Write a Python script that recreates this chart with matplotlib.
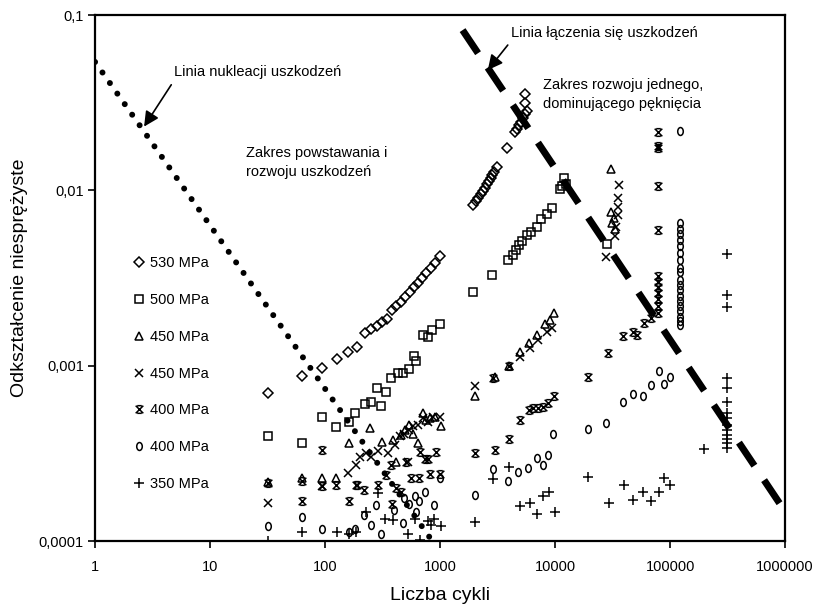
import matplotlib
matplotlib.use("Agg")
import matplotlib.pyplot as plt
from matplotlib.path import Path
from matplotlib.transforms import Affine2D
from matplotlib.ticker import FixedLocator, FixedFormatter, NullLocator

plt.rcParams['font.family'] = ['Liberation Sans', 'DejaVu Sans']

# =========================
# DATA (liczba cykli, odksztalcenie niesprezyste)
# =========================
n_530 = [32, 63, 95, 127, 159, 189, 222, 250, 284, 314, 347, 384, 416, 457, 499, 543, 589, 642, 695, 759, 828, 903, 993,
         1940, 2050, 2150, 2250, 2350, 2450, 2550, 2650, 2750, 2850, 2950, 3100, 3830,
         4470, 4650, 4850, 5050, 5250, 5450, 5650, 5460, 5460]
e_530 = [7.0e-4, 8.7e-4, 9.7e-4, 1.09e-3, 1.20e-3, 1.28e-3, 1.53e-3, 1.62e-3, 1.69e-3, 1.77e-3, 1.85e-3, 2.07e-3,
         2.19e-3, 2.31e-3, 2.47e-3, 2.64e-3, 2.80e-3, 2.95e-3, 3.15e-3, 3.36e-3, 3.59e-3, 3.83e-3, 4.22e-3,
         8.3e-3, 8.7e-3, 9.1e-3, 9.5e-3, 9.9e-3, 1.03e-2, 1.08e-2, 1.13e-2, 1.18e-2, 1.23e-2, 1.28e-2, 1.36e-2, 1.74e-2,
         2.15e-2, 2.25e-2, 2.35e-2, 2.45e-2, 2.6e-2, 2.72e-2, 2.85e-2, 3.15e-2, 3.54e-2]

n_500 = [32, 63, 95, 125, 160, 183, 222, 250, 281, 308, 340, 375, 430, 475, 540, 590, 620, 706, 785, 855, 1000,
         1940, 2850, 3910, 4330, 4600, 4900, 5200, 5650, 6220, 6920, 7600, 8450, 9360,
         11000, 11500, 12000, 12500, 28400]
e_500 = [3.96e-4, 3.63e-4, 5.07e-4, 4.48e-4, 4.78e-4, 5.38e-4, 6.04e-4, 6.22e-4, 7.48e-4, 5.88e-4, 7.1e-4, 8.46e-4,
         9.03e-4, 9.1e-4, 9.53e-4, 1.14e-3, 1.06e-3, 1.5e-3, 1.46e-3, 1.6e-3, 1.73e-3,
         2.64e-3, 3.29e-3, 4.0e-3, 4.28e-3, 4.55e-3, 4.85e-3, 5.15e-3, 5.56e-3, 5.8e-3, 6.2e-3, 6.85e-3, 7.3e-3, 7.9e-3,
         1.02e-2, 1.06e-2, 1.17e-2, 1.09e-2, 4.92e-3]

n_450a = [32, 63, 95, 125, 160, 246, 313, 390, 417, 460, 500, 540, 580, 640, 705, 760, 820, 900, 1010,
          2000, 3000, 4000, 4950, 5950, 6950, 8200, 8950, 9750,
          30800, 30800, 31500, 32500, 33500]
e_450a = [2.18e-4, 2.3e-4, 2.3e-4, 2.3e-4, 3.63e-4, 4.43e-4, 3.68e-4, 3.77e-4, 2.83e-4, 4.0e-4, 4.3e-4, 4.6e-4,
          4.1e-4, 3.6e-4, 5.4e-4, 4.9e-4, 5.0e-4, 5.1e-4, 4.54e-4,
          6.7e-4, 8.57e-4, 9.95e-4, 1.19e-3, 1.34e-3, 1.5e-3, 1.74e-3, 1.82e-3, 2.0e-3,
          1.32e-2, 7.55e-3, 6.5e-3, 7.0e-3, 6.0e-3]

n_450b = [32, 95, 158, 186, 200, 226, 250, 290, 352, 405, 445, 490, 525, 540, 580, 640, 706, 785, 865, 1000,
          2000, 4950, 6000, 7100, 8450, 9350,
          28000, 33000, 34000, 35000, 35000, 35500, 36000]
e_450b = [1.64e-4, 2.06e-4, 2.43e-4, 2.71e-4, 3.02e-4, 3.16e-4, 3.0e-4, 3.24e-4, 3.18e-4, 3.52e-4, 3.96e-4, 4.1e-4,
          2.83e-4, 4.3e-4, 4.5e-4, 4.6e-4, 5.0e-4, 4.8e-4, 5.1e-4, 5.1e-4,
          7.65e-4, 1.12e-3, 1.26e-3, 1.4e-3, 1.56e-3, 1.65e-3,
          4.18e-3, 5.5e-3, 6.2e-3, 7.2e-3, 8.0e-3, 9.0e-3, 1.07e-2]

n_400a = [32, 63, 63, 95, 95, 125, 160, 186, 188, 220, 290, 340, 375, 385, 415, 458, 505, 560, 660, 675, 735, 785,
          810, 930, 1000,
          2000, 2900, 3000, 4000, 4000, 4950, 5950, 6400, 7100, 7800, 8600, 9750,
          19300, 29000, 39000, 48000, 52000, 59000, 68000,
          79000, 79000, 79000, 79000, 79000, 79000, 79000, 79000, 79000, 79000, 79000, 79000]
e_400a = [2.15e-4, 2.2e-4, 1.7e-4, 3.3e-4, 2.05e-4, 2.1e-4, 1.7e-4, 2.1e-4, 2.08e-4, 1.95e-4, 2.1e-4, 2.38e-4,
          2.7e-4, 1.62e-4, 2.0e-4, 1.9e-4, 2.83e-4, 2.3e-4, 2.3e-4, 3.2e-4, 2.95e-4, 2.95e-4, 2.4e-4, 3.2e-4, 2.4e-4,
          3.16e-4, 8.5e-4, 3.3e-4, 1.0e-3, 3.8e-4, 4.93e-4, 5.6e-4, 5.7e-4, 5.75e-4, 5.8e-4, 6.1e-4, 6.7e-4,
          8.57e-4, 1.18e-3, 1.48e-3, 1.55e-3, 1.5e-3, 1.75e-3, 1.86e-3,
          2.16e-2, 1.8e-2, 1.75e-2, 1.06e-2, 5.94e-3, 3.24e-3, 3.0e-3, 2.8e-3, 2.6e-3, 2.4e-3, 2.2e-3, 2.0e-3]

n_400b = [32, 63, 95, 160, 183, 220, 250, 278, 308, 400, 475, 490, 540, 600, 620, 660, 735, 890, 1000,
          2000, 2900, 3900, 4800, 5800, 6900, 7800, 8700, 9600,
          19300, 28000, 39000, 48000, 58000, 68000, 80000, 89000, 99000,
          122000, 122000, 122000, 122000, 122000, 122000, 122000, 122000, 122000, 122000,
          122000, 122000, 122000, 122000, 122000, 122000, 122000, 122000, 122000, 122000]
e_400b = [1.22e-4, 1.37e-4, 1.17e-4, 1.13e-4, 1.17e-4, 1.4e-4, 1.23e-4, 1.6e-4, 1.1e-4, 1.5e-4, 1.26e-4, 1.75e-4,
          1.63e-4, 1.8e-4, 1.47e-4, 1.7e-4, 1.9e-4, 1.6e-4, 2.3e-4,
          1.83e-4, 2.56e-4, 2.2e-4, 2.48e-4, 2.6e-4, 2.96e-4, 2.7e-4, 3.1e-4, 4.07e-4,
          4.38e-4, 4.68e-4, 6.2e-4, 6.9e-4, 6.7e-4, 7.8e-4, 9.3e-4, 7.9e-4, 8.6e-4,
          2.19e-2, 6.5e-3, 6.0e-3, 5.6e-3, 5.2e-3, 4.8e-3, 4.4e-3, 4.0e-3, 3.6e-3, 3.4e-3,
          3.1e-3, 2.9e-3, 2.7e-3, 2.5e-3, 2.35e-3, 2.2e-3, 2.05e-3, 1.9e-3, 1.8e-3, 1.7e-3]

n_350 = [32, 63, 128, 160, 186, 226, 290, 330, 387, 525, 600, 675, 785, 840, 890, 1010,
         2000, 2900, 4000, 4950, 6000, 6900, 7800, 8900, 10000,
         19300, 29500, 40000, 48000, 58000, 68000, 80000, 88000, 100000, 198000,
         310000, 310000, 310000, 310000, 310000, 310000, 310000, 310000, 310000, 310000, 310000, 310000, 310000, 310000]
e_350 = [1.0e-4, 1.13e-4, 1.13e-4, 1.1e-4, 1.13e-4, 1.47e-4, 1.87e-4, 1.34e-4, 1.32e-4, 1.1e-4, 1.34e-4, 1.02e-4,
         1.3e-4, 1.23e-4, 1.33e-4, 1.22e-4,
         1.29e-4, 2.25e-4, 2.65e-4, 1.58e-4, 1.65e-4, 1.43e-4, 1.8e-4, 1.9e-4, 1.47e-4,
         2.32e-4, 1.64e-4, 2.1e-4, 1.72e-4, 1.9e-4, 1.7e-4, 1.9e-4, 2.3e-4, 2.1e-4, 3.37e-4,
         4.34e-3, 2.53e-3, 2.17e-3, 8.5e-4, 7.5e-4, 6.2e-4, 5.4e-4, 5.0e-4, 4.6e-4, 4.3e-4, 4.0e-4, 3.8e-4, 3.6e-4, 3.4e-4]

labels = ['530 MPa', '500 MPa', '450 MPa', '450 MPa', '400 MPa', '400 MPa', '350 MPa']

# linie nukleacji i laczenia sie uszkodzen
nuc_n = [1, 855]
nuc_e = [0.054, 1.0e-4]
coal_n = [1570, 950000]
coal_e = [0.082, 1.55e-4]

x_ticks = [1, 10, 100, 1000, 10000, 100000, 1000000]
x_ticklabels = ['1', '10', '100', '1000', '10000', '100000', '1000000']
y_ticks = [0.0001, 0.001, 0.01, 0.1]
y_ticklabels = ['0,0001', '0,001', '0,01', '0,1']

# =========================
# MARKERY
# =========================
M, L = Path.MOVETO, Path.LINETO
star = Path([(-1, -1), (1, 1), (-1, 1), (1, -1), (-0.6, 1), (0.6, 1), (-0.6, -1), (0.6, -1)],
            [M, L, M, L, M, L, M, L])
oval = Path.unit_circle().transformed(Affine2D().scale(0.7, 1.0))

styles = [
    dict(marker='D', ms=4.6),
    dict(marker='s', ms=5.3),
    dict(marker='^', ms=5.9),
    dict(marker='x', ms=5.5),
    dict(marker=star, ms=5.5),
    dict(marker=oval, ms=5.7),
    dict(marker='+', ms=6.6),
]
series = [(n_530, e_530), (n_500, e_500), (n_450a, e_450a), (n_450b, e_450b),
          (n_400a, e_400a), (n_400b, e_400b), (n_350, e_350)]

# =========================
# PLOT
# =========================
fig = plt.figure(figsize=(8.2, 6.15), dpi=100)
ax = fig.add_axes([0.1159, 0.1203, 0.8415, 0.8553])
ax.set_xscale('log')
ax.set_yscale('log')

handles = []
for (n, e), st in zip(series, styles):
    h, = ax.plot(n, e, linestyle='none', marker=st['marker'], markersize=st['ms'],
                 markerfacecolor='none', markeredgecolor='k', markeredgewidth=1.1,
                 color='k', zorder=2)
    handles.append(h)

ax.plot(nuc_n, nuc_e, color='k', lw=4.3, linestyle=(0, (0.01, 2.15)),
        dash_capstyle='round', zorder=3)
ax.plot(coal_n, coal_e, color='k', lw=5.0, linestyle=(0, (4.0, 2.5)),
        dash_capstyle='butt', zorder=3)

ax.set_xlim(1, 1e6)
ax.set_ylim(1e-4, 0.1)

ax.xaxis.set_major_locator(FixedLocator(x_ticks))
ax.xaxis.set_major_formatter(FixedFormatter(x_ticklabels))
ax.yaxis.set_major_locator(FixedLocator(y_ticks))
ax.yaxis.set_major_formatter(FixedFormatter(y_ticklabels))
ax.xaxis.set_minor_locator(NullLocator())
ax.yaxis.set_minor_locator(NullLocator())
ax.tick_params(axis='both', which='major', direction='out', length=5, width=1.2,
               labelsize=10.5, color='k')
ax.tick_params(axis='x', pad=9)
ax.tick_params(axis='y', pad=3)

for sp in ax.spines.values():
    sp.set_linewidth(1.6)

ax.set_xlabel('Liczba cykli', fontsize=14)
ax.set_ylabel('Odkształcenie niesprężyste', fontsize=14)
ax.xaxis.set_label_coords(0.5, -0.088)
ax.yaxis.set_label_coords(-0.097, 0.5)

# =========================
# OPISY
# =========================
arrow = dict(arrowstyle='-|>,head_length=0.6,head_width=0.3', color='k', lw=1.2,
             mutation_scale=15, shrinkA=0, shrinkB=0)
ax.annotate('', xy=(2.67, 0.0231), xytext=(4.6, 0.040), arrowprops=arrow)
ax.annotate('', xy=(2600, 0.0485), xytext=(3880, 0.0674), arrowprops=arrow)

ax.text(4.88, 0.0473, 'Linia nukleacji uszkodzeń', fontsize=10.5, va='center')
ax.text(4120, 0.0789, 'Linia łączenia się uszkodzeń', fontsize=10.5, va='center')
ax.text(7830, 0.0354, 'Zakres rozwoju jednego,\ndominującego pęknięcia', fontsize=10.5,
        va='center', linespacing=1.45)
ax.text(20.7, 0.0145, 'Zakres powstawania i\nrozwoju uszkodzeń', fontsize=10.5,
        va='center', linespacing=1.45)

ax.legend(handles, labels, loc='center left', bbox_to_anchor=(0.055, 0.318),
          frameon=False, fontsize=10.5, labelspacing=1.56, handlelength=0.8,
          handletextpad=0.4, borderpad=0, borderaxespad=0, numpoints=1)

plt.savefig('out.png', dpi=100)
